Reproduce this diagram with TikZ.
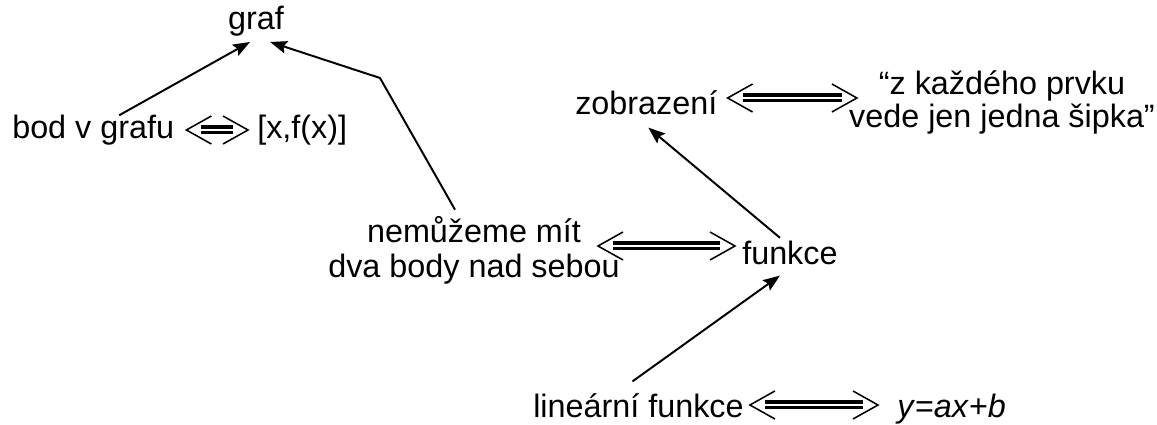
\documentclass[tikz,border=0pt]{standalone}
\usepackage{fontspec}
\setmainfont{Liberation Sans}
\usetikzlibrary{arrows.meta,calc}

\begin{document}
\begin{tikzpicture}[x=0.025cm, y=-0.025cm,
  font=\fontsize{23}{27}\selectfont,
  every node/.style={inner sep=0pt},
  arr/.style={-{Stealth[length=12pt, width=9pt, inset=2pt]}, line width=1.4pt},
  eqtip/.style={line width=1.1pt, line join=miter},
  eqbar/.style={double, double distance=2pt, line width=2.2pt}]
  \useasboundingbox (0,0) rectangle (1157,425);
  % concepts
  \node[anchor=base] (graf) at (256,30) {graf};
  \node[anchor=base west] (bod) at (12,139) {bod v grafu};
  \node[anchor=base west] (xfx) at (257,139) {[x,f(x)]};
  \node[anchor=base, align=center, font=\fontsize{23}{25.6}\selectfont] (nem) at (474,278)
    {nemůžeme mít\\dva body nad sebou};
  \node[anchor=base west] (funkce) at (742,265) {funkce};
  \node[anchor=base west] (zobr) at (575,115) {zobrazení};
  \node[anchor=base, align=center, font=\fontsize{23}{23.5}\selectfont] (sipka) at (1002,128)
    {“z každého prvku\\vede jen jedna šipka”};
  \node[anchor=base west] (lin) at (533,417) {lineární funkce};
  \node[anchor=base west] (rovnice) at (897,417) {\textit{y}=\textit{ax}+\textit{b}};
  % implications
  \draw[arr] ($(bod.north)+(26,0)$) -- ($(graf.south)+(-6,5)$);
  \coordinate (ohyb) at (380,78);
  \draw[arr] ($(nem.north)+(-19,-6)$) -- (ohyb) -- ($(graf.south east)+(-14,5)$);
  \draw[arr] ($(funkce.north)+(-10,-3.5)$) -- ($(zobr.south)+(2,12)$);
  \draw[arr] ($(lin.north)+(-6,-11.5)$) -- ($(funkce.south)+(-10,10)$);
  % equivalences
  \coordinate (e1a) at ($(bod.base east)+(12,-9)$);
  \coordinate (e1b) at ($(xfx.base west)+(-9,-9)$);
  \coordinate (e2a) at ($(nem.base)+(124,-32)$);
  \coordinate (e2b) at ($(funkce.base west)+(-7,-19)$);
  \coordinate (e3a) at ($(zobr.base east)+(10,-17)$);
  \coordinate (e3b) at ($(sipka.base west)+(8,-30)$);
  \coordinate (e4a) at ($(lin.base east)+(6,-12)$);
  \coordinate (e4b) at ($(rovnice.base west)+(-19,-12)$);
  \foreach \a/\b in {e1a/e1b, e2a/e2b, e3a/e3b, e4a/e4b}{
    \draw[eqbar] ($(\a)+(15,0)$) -- ($(\b)+(-15,0)$);
    \draw[eqtip] ($(\a)+(25,-14)$) -- (\a) -- ($(\a)+(25,14)$);
    \draw[eqtip] ($(\b)+(-25,-14)$) -- (\b) -- ($(\b)+(-25,14)$);
  }
\end{tikzpicture}
\end{document}
